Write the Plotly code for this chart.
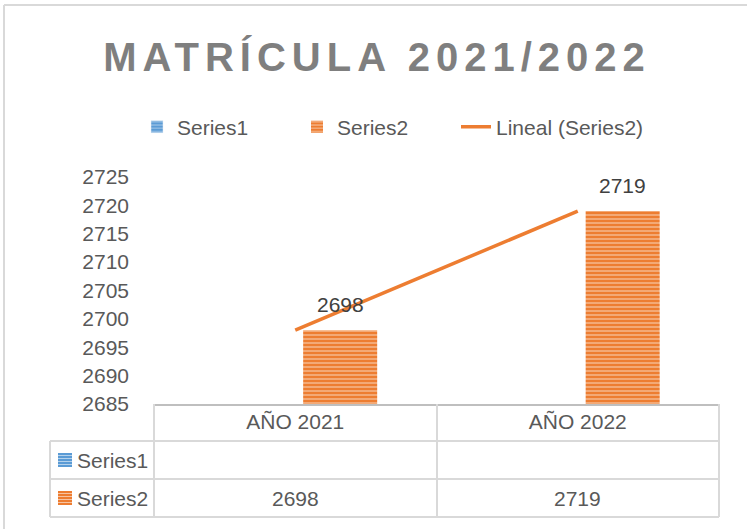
import numpy as np
import plotly.graph_objects as go

# chart data
categories = ["AÑO 2021", "AÑO 2022"]
series1 = [None, None]
series2 = [2698, 2719]
y_ticks = [2685, 2690, 2695, 2700, 2705, 2710, 2715, 2720, 2725]

# linear trendline of Series2 (Excel "Lineal")
xi = np.arange(len(series2))
slope, intercept = np.polyfit(xi, series2, 1)
trend = list(slope * xi + intercept)

ORANGE = "#ED7D31"
BLUE = "#5B9BD5"
TXT = "#595959"
GRID = "#D9D9D9"
FONT = "Liberation Sans, Arial, sans-serif"

# plot area in pixels (used to place the table and the legend)
L, R, T, B = 154, 719, 177, 404
BAR_W, BAR_OFF = 0.262, 0.028


def px(x):
    return (x - L) / (R - L)


def py(y):
    return (B - y) / (B - T)


fig = go.Figure()

fig.add_trace(go.Bar(
    x=categories, y=series1, name="Series1",
    marker=dict(color=BLUE, pattern=dict(shape="-", fgcolor="#DEEBF7", bgcolor=BLUE, size=4, solidity=0.35)),
))

fig.add_trace(go.Bar(
    x=categories, y=series2, name="Series2",
    width=BAR_W, offset=BAR_OFF,
    marker=dict(color=ORANGE, line=dict(width=0),
                pattern=dict(shape="-", fgcolor="#FDEBE0", bgcolor=ORANGE, size=4, solidity=0.4)),
))

fig.add_trace(go.Scatter(
    x=categories, y=trend, name="Lineal (Series2)", mode="lines", legend="legend2",
    line=dict(color=ORANGE, width=3.5),
))

# data table grid (below the plot)
line_style = dict(color=GRID, width=2)
shapes = []
# outer chart border (top and left)
shapes.append(dict(type="line", xref="paper", yref="paper", x0=px(4), x1=px(760), y0=py(5), y1=py(5), line=line_style))
shapes.append(dict(type="line", xref="paper", yref="paper", x0=px(4), x1=px(4), y0=py(5), y1=py(540), line=line_style))
# vertical lines
for xv, ytop in [(50, 441), (154, 404), (437, 404), (719, 404)]:
    shapes.append(dict(type="line", xref="paper", yref="paper", x0=px(xv), x1=px(xv), y0=py(ytop), y1=py(517), line=line_style))
# horizontal lines
for yv in [441, 479, 517]:
    shapes.append(dict(type="line", xref="paper", yref="paper", x0=px(50), x1=px(719), y0=py(yv), y1=py(yv), line=line_style))

annotations = []
# data labels above the bars
for i, v in enumerate(series2):
    annotations.append(dict(text=str(v), xref="x", yref="y", x=i + BAR_OFF + BAR_W / 2, y=v, xanchor="center",
                            yanchor="bottom", yshift=12, showarrow=False,
                            font=dict(size=21, color="#404040", family=FONT)))

# legend keys in the table
for name, color, yc in [("Series1", BLUE, 460), ("Series2", ORANGE, 498)]:
    shapes.append(dict(type="rect", xref="paper", yref="paper", x0=px(58), x1=px(72), y0=py(yc - 7), y1=py(yc + 7),
                       fillcolor=color, line=dict(width=0)))
    for k in range(4):
        yy = yc - 4.5 + 3 * k
        shapes.append(dict(type="line", xref="paper", yref="paper", x0=px(58), x1=px(72), y0=py(yy), y1=py(yy),
                           line=dict(color="rgba(255,255,255,0.55)", width=1)))
    annotations.append(dict(text=name, xref="paper", yref="paper", x=px(75), y=py(yc), xanchor="left", yanchor="middle",
                            showarrow=False, font=dict(size=21, color=TXT, family=FONT)))

# table values
for cat, v in zip(categories, series2):
    annotations.append(dict(text=str(v), xref="x", yref="paper", x=cat, y=py(498), xanchor="center", yanchor="middle",
                            showarrow=False, font=dict(size=21, color=TXT, family=FONT)))

fig.update_layout(
    width=747, height=529,
    margin=dict(l=L, r=747 - R, t=T, b=529 - B),
    paper_bgcolor="white", plot_bgcolor="white",
    font=dict(family=FONT, size=21, color=TXT),
    title=dict(
        text='<span style="letter-spacing:6px">MATRÍCULA 2021/2022</span>',
        x=377 / 747, xanchor="center", xref="container",
        y=1 - 57 / 529, yanchor="middle", yref="container",
        font=dict(family=FONT, size=40, color="#7F7F7F", weight="bold"),
    ),
    legend=dict(orientation="h", x=px(137), xanchor="left", y=py(127), yanchor="middle",
                entrywidth=115, entrywidthmode="pixels",
                font=dict(size=21, color=TXT), traceorder="normal", bgcolor="rgba(0,0,0,0)"),
    legend2=dict(orientation="h", x=px(456), xanchor="left", y=py(127), yanchor="middle",
                 font=dict(size=21, color=TXT), bgcolor="rgba(0,0,0,0)"),
    showlegend=True,
    shapes=shapes,
    annotations=annotations,
)

fig.update_yaxes(range=[2685, 2725], tickvals=y_ticks, showgrid=False, zeroline=False, showline=False,
                 ticks="", ticklabelstandoff=24, tickfont=dict(size=21, color=TXT))
fig.update_xaxes(type="category", range=[-0.5, 1.5], showgrid=False, showline=True, linecolor="#BFBFBF", linewidth=2,
                 ticks="", ticklabelstandoff=-2, tickfont=dict(size=21, color=TXT))

fig.write_html("out.html", config={"displayModeBar": False},
               post_script="document.body.style.margin='0';")
